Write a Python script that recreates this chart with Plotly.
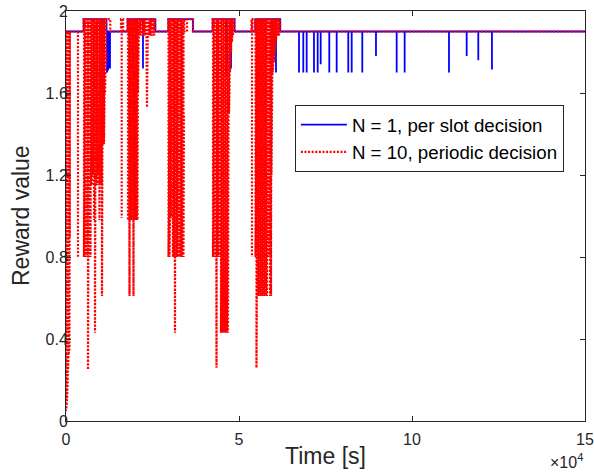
import plotly.graph_objects as go

# ---------------- data ----------------
T_END = 150000
BASE = 1.9          # normal reward level
HIGH = 1.96         # elevated level inside bursts

# N = 10, periodic decision (red): elevated intervals [s]
red_hi_start = [5100, 15900, 17800, 29600, 35000, 42400, 53600, 54700]
red_hi_end   = [12800, 16500, 25800, 34200, 36700, 48700, 53900, 61900]

# red downward spikes: time [s] and minimum reward value
red_spike_t = [
    0, 70, 140, 210, 290, 360, 430, 500, 580, 650, 720, 800, 870, 940, 1010, 1100,
    3470,
    5200, 5350, 5500, 5640, 5780, 5930, 6070, 6210, 6360, 6500, 6650, 6790, 6940, 7080,
    7230, 7370, 7510, 7660, 7800, 7950, 8090, 8240, 8380, 8530, 8670, 8820, 8960, 9100,
    9250, 9390, 9540, 9680, 9830, 9970, 10120, 10260, 10400, 10550, 10690, 10840, 10980,
    11130, 11270, 11420, 11560, 11700,
    16100,
    17920, 18060, 18210, 18350, 18500, 18640, 18790, 18930, 19070, 19220, 19360, 19510,
    19650, 19800, 19940, 20080, 20230, 20370, 20520, 20660, 20810,
    21100, 21400, 21700, 22000, 22300, 22600, 22900, 23200, 23400, 23700, 24000, 24300,
    24600, 24900, 25200, 25500,
    29620, 29770, 29910, 30060, 30200, 30350, 30490, 30630, 30780, 30920, 31070, 31210,
    31360, 31500, 31650, 31790, 31940, 32080, 32230, 32370, 32510, 32660, 32800, 32950,
    33090, 33240, 33380, 33530, 33670, 33820, 33960, 34100,
    42480, 42630, 42770, 42920, 43060, 43210, 43350, 43500, 43640, 43790, 43930, 44070,
    44220, 44360, 44510, 44650, 44800, 44940, 45080, 45230, 45370, 45520, 45660, 45810,
    45950, 46100, 46240, 46390, 46530, 46680, 46820, 46960, 47110, 47250, 47400, 47690,
    47970, 48260,
    53750,
    54770, 54910, 55050, 55200, 55340, 55490, 55630, 55780, 55920, 56070, 56210, 56350,
    56500, 56640, 56790, 56930, 57080, 57220, 57370, 57510, 57660, 57800, 57950, 58090,
    58230, 58380, 58520, 58670, 58810, 58960, 59100, 59250, 59390, 59530, 59820, 60110,
    60400, 60690, 60980, 61270, 61560,
]
red_spike_v = [
    0.05, 0.05, 0.06, 0.08, 0.10, 0.13, 0.16, 0.20, 0.24, 0.28, 0.32, 0.33, 0.34, 0.34, 0.35, 0.90,
    0.80,
    0.80, 1.20, 0.80, 1.35, 0.80, 1.15, 0.80, 1.30, 0.25, 1.15, 0.80, 1.35, 1.15, 0.80,
    1.15, 1.40, 1.15, 1.35, 1.20, 1.40, 0.98, 1.15, 0.43, 1.35, 1.40, 1.15, 1.35, 1.20,
    1.40, 1.15, 1.35, 0.98, 1.40, 1.15, 1.35, 1.15, 0.61, 1.40, 1.35, 1.50, 1.35,
    1.55, 1.60, 1.70, 1.75, 1.80,
    0.99,
    0.98, 1.20, 0.98, 0.61, 0.98, 1.10, 0.98, 1.20, 0.98, 1.00, 0.98, 0.61,
    0.98, 1.10, 0.98, 1.20, 0.98, 1.10, 0.98, 0.99, 1.60,
    1.88, 1.88, 1.88, 1.88, 1.88, 1.88, 1.88, 1.88, 1.53, 1.88, 1.88, 1.88,
    1.88, 1.88, 1.88, 1.88,
    0.80, 0.99, 0.80, 0.99, 1.20, 0.99, 1.30, 1.50, 1.40, 0.80, 0.99, 0.80,
    1.10, 0.43, 0.80, 1.00, 0.80, 0.99, 0.80, 1.10, 0.80, 0.99, 0.80, 1.00,
    0.80, 1.10, 0.80, 0.99, 0.80, 1.20, 0.80, 1.50,
    0.80, 1.00, 0.80, 0.99, 0.80, 1.10, 0.80, 0.26, 0.80, 1.00, 0.80, 0.99,
    0.80, 1.10, 0.80, 0.99, 0.43, 0.80, 0.43, 0.99, 0.43, 0.80, 0.43, 0.99,
    0.43, 0.80, 0.43, 0.99, 0.43, 0.80, 0.43, 1.30, 1.50, 1.60, 1.70, 1.80,
    1.85, 1.88,
    0.80,
    0.80, 0.99, 0.26, 0.80, 0.99, 0.61, 0.80, 0.61, 0.99, 0.61, 0.80, 0.61,
    0.99, 0.61, 0.80, 0.61, 0.99, 0.61, 0.80, 0.61, 0.99, 0.61, 0.80, 0.61,
    0.99, 0.80, 1.00, 0.80, 0.99, 0.61, 0.80, 0.61, 1.20, 1.50, 1.70, 1.75,
    1.80, 1.85, 1.88, 1.88, 1.88,
]

# N = 1, per slot decision (blue): elevated intervals [s]
blue_hi_start = [5100, 17800, 29600, 42400, 54700]
blue_hi_end   = [11700, 25800, 36700, 48700, 61900]

# blue downward dips: time [s] and minimum reward value
blue_dip_t = [11850, 12140, 12430, 12720, 22250, 46530, 47690, 55200,
              59530, 60690, 67340, 68580, 69560, 71670, 72740, 73610, 76090, 78230,
              81580, 82570, 85630, 89590, 95570, 97880, 110690, 115800, 119160, 123110]
blue_dip_v = [1.70, 1.71, 1.72, 1.72, 1.72, 1.68, 1.72, 1.53,
              1.70, 1.70, 1.70, 1.70, 1.70, 1.70, 1.70, 1.74, 1.70, 1.70,
              1.70, 1.70, 1.70, 1.78, 1.70, 1.70, 1.70, 1.78, 1.76, 1.715]

x_tick_vals = [0, 50000, 100000, 150000]
x_tick_text = ["0", "5", "10", "15"]
y_tick_vals = [0, 0.4, 0.8, 1.2, 1.6, 2]
y_tick_text = ["0", "0.4", "0.8", "1.2", "1.6", "2"]

GROUP_GAP = 400   # spikes closer than this are drawn as one continuous zig-zag


def build(hi_start, hi_end, spike_t, spike_v):
    xs, ys = [0], [BASE]
    for s, e in zip(hi_start, hi_end):
        xs += [s, s, e, e]
        ys += [BASE, HIGH, HIGH, BASE]
    xs.append(T_END)
    ys.append(BASE)
    prev = None
    for t, v in zip(spike_t, spike_v):
        lvl = HIGH if any(s <= t <= e for s, e in zip(hi_start, hi_end)) else BASE
        if prev is None or t - prev > GROUP_GAP:
            xs.append(None)
            ys.append(None)
        xs += [t, t]
        ys += [lvl, v]
        prev = t
    return xs, ys


bx, by = build(blue_hi_start, blue_hi_end, blue_dip_t, blue_dip_v)
rx, ry = build(red_hi_start, red_hi_end, red_spike_t, red_spike_v)

FONT = "Liberation Sans, Arial, Helvetica, sans-serif"
TXT = "#262626"

fig = go.Figure()
fig.add_trace(go.Scatter(
    x=bx, y=by, mode="lines", connectgaps=False,
    name="N = 1, per slot decision",
    line=dict(color="rgb(0,0,255)", width=1.8),
))
fig.add_trace(go.Scatter(
    x=rx, y=ry, mode="lines", connectgaps=False,
    name="N = 10, periodic decision",
    line=dict(color="rgb(255,0,0)", width=2.2, dash="2px,1.6px"),
))

axis_common = dict(
    showline=True, linecolor=TXT, linewidth=1, mirror="ticks",
    ticks="inside", ticklen=5, tickcolor=TXT, tickwidth=1,
    showgrid=False, zeroline=False, automargin=False,
    ticklabeloverflow="allow",
    tickfont=dict(family=FONT, size=16, color=TXT),
)

fig.update_layout(
    width=594, height=473,
    margin=dict(l=66, r=9, t=11, b=52),
    paper_bgcolor="white", plot_bgcolor="white",
    font=dict(family=FONT, color=TXT),
    xaxis=dict(range=[0, T_END], tickmode="array", tickvals=x_tick_vals,
               ticktext=x_tick_text, ticklabelstandoff=4, **axis_common),
    yaxis=dict(range=[0, 2], tickmode="array", tickvals=y_tick_vals,
               ticktext=y_tick_text, ticklabelstandoff=-6, **axis_common),
    legend=dict(x=0.441, y=0.771, xanchor="left", yanchor="top",
                bgcolor="white", bordercolor=TXT, borderwidth=1,
                font=dict(family=FONT, size=18.7, color="black"),
                itemwidth=46, tracegroupgap=0),
    showlegend=True,
)
fig.add_annotation(
    text="Time [s]", xref="paper", yref="paper", x=0.5, y=0,
    xanchor="center", yanchor="top", yshift=-20, showarrow=False,
    font=dict(family=FONT, size=23, color=TXT),
)
fig.add_annotation(
    text="Reward value", xref="paper", yref="paper", x=0, y=0.5,
    xanchor="right", yanchor="middle", xshift=-30, textangle=-90, showarrow=False,
    font=dict(family=FONT, size=23, color=TXT),
)
fig.add_annotation(
    text="×10<sup>4</sup>", xref="paper", yref="paper", x=1.0, y=0,
    xanchor="right", yanchor="top", yshift=-28, showarrow=False,
    font=dict(family=FONT, size=16, color=TXT),
)

# remove the default 8px page margin so the figure fills the window exactly
fig.write_html("out.html",
               config={"displayModeBar": False},
               post_script="document.body.style.margin='0';document.body.style.overflow='hidden';")
